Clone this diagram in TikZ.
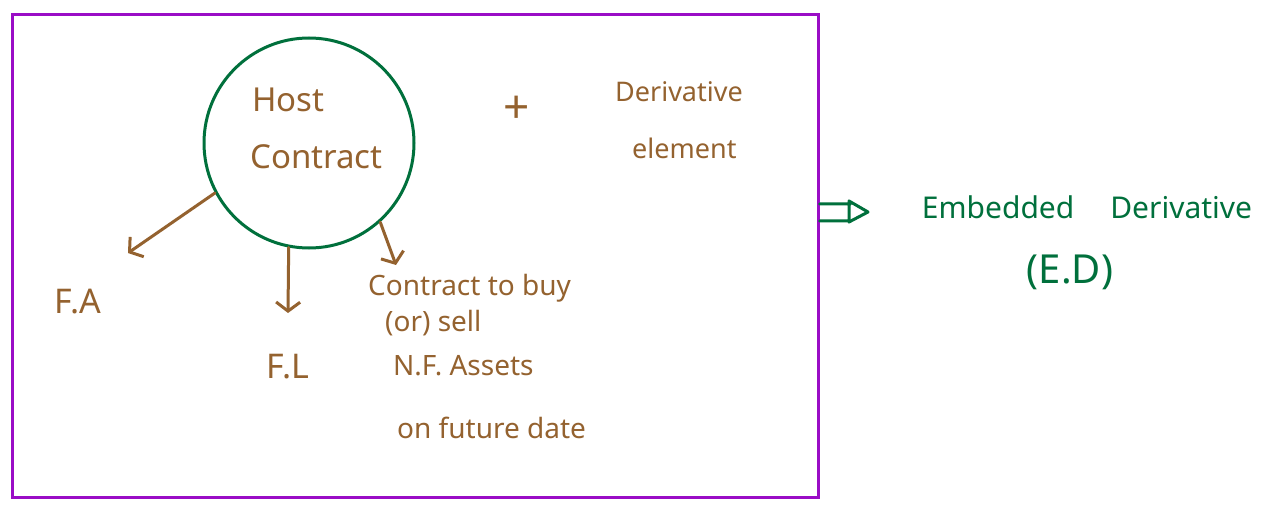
\documentclass[tikz,border=0pt]{standalone}
\usepackage{fontspec}
\setmainfont{Noto Sans}
\usetikzlibrary{arrows.meta}
\definecolor{inkbrown}{HTML}{94622F}
\definecolor{inkgreen}{HTML}{00703C}
\definecolor{inkpurple}{HTML}{9A0DC6}
\tikzset{
  hand/.style={text=inkbrown, font=\fontsize{28}{32}\selectfont, inner sep=0pt},
  handgreen/.style={text=inkgreen, font=\fontsize{30}{34}\selectfont, inner sep=0pt},
  brownarrow/.style={draw=inkbrown, line width=3pt, line cap=round, -{Straight Barb[length=9pt,width=24pt,line width=3pt]}},
}
\begin{document}
\begin{tikzpicture}[x=1pt,y=-1pt]
\useasboundingbox (0,0) rectangle (1274,505);
\fill[white] (0,0) rectangle (1274,505);
% frame
\node[draw=inkpurple, line width=3pt, minimum width=806pt, minimum height=482pt, inner sep=0pt] (frame) at (415,256) {};
% host contract circle
\node[draw=inkgreen, line width=3pt, circle, minimum size=210pt, inner sep=0pt] (hc) at (309,143) {};
\node[hand, anchor=west, font=\fontsize{33}{36}\selectfont] (host) at (252,100) {Host};
\node[hand, anchor=west, font=\fontsize{33}{36}\selectfont] (contract) at (250,157) {Contract};
\node[hand, font=\fontsize{46}{50}\selectfont] (plus) at (517,110) {+};
\node[hand, anchor=west, font=\fontsize{27}{30}\selectfont] (deriv) at (615,92) {Derivative};
\node[hand, anchor=west, font=\fontsize{27}{30}\selectfont] (elem) at (632,148) {element};
% outputs
\node[hand, font=\fontsize{34}{38}\selectfont] (fa) at (78,302) {F.A};
\node[hand, font=\fontsize{34}{38}\selectfont] (fl) at (288,367) {F.L};
\node[hand, anchor=west] (c1) at (368,288) {Contract to buy};
\node[hand, anchor=west] (c2) at (385,323) {(or) sell};
\node[hand, anchor=west] (c3) at (393,366) {N.F. Assets};
\node[hand, anchor=west] (c4) at (397,428) {on future date};
\coordinate (faend) at (128,253);
\coordinate (flend) at (288,313);
\coordinate (c1end) at (396,265);
\draw[brownarrow] (hc.208) -- (faend);
\draw[brownarrow] (hc.259) -- (flend);
\draw[brownarrow] (hc.312) -- (c1end);
% implies arrow
\node[handgreen] (ed) at (1087,207) {Embedded\hspace{36pt}Derivative};
\node[handgreen, font=\fontsize{40}{44}\selectfont] (edabbr) at (1070,272) {(E.D)};
\coordinate (imptip) at (868,212);
\draw[inkgreen, line width=3pt, line cap=round, line join=round]
  ([yshift=-9pt]frame.east |- imptip) -- ++(31,0)
  ([yshift=8pt]frame.east |- imptip) -- ++(31,0)
  (849,201) -- (849,222) -- (imptip) -- cycle;
\end{tikzpicture}
\end{document}
